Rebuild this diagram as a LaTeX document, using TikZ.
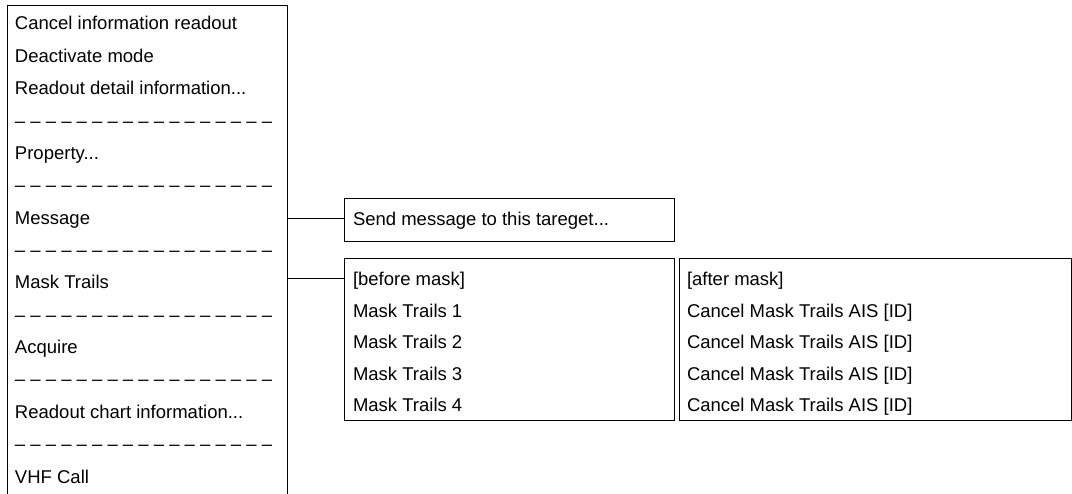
\documentclass[tikz,border=0pt]{standalone}
\usepackage{fontspec}
\setmainfont{Liberation Sans}
\begin{document}
\begin{tikzpicture}[x=1pt,y=-1pt,
  every node/.style={inner sep=0pt, outer sep=0pt},
  item/.style={anchor=base west, font=\fontsize{18.5}{22}\selectfont},
  frame/.style={draw, line width=1pt, rectangle, anchor=north west},
  wire/.style={draw, line width=1pt}]
\useasboundingbox (0,0) rectangle (1072,494);
\def\dashrow{– – – – – – – – – – – – – – – – –}
% left menu
\draw[line width=1pt] (7.5,494) -- (7.5,5.5) -- (287.5,5.5) -- (287.5,494);
\node[item] (m1) at (15,30) {Cancel information readout};
\node[item] (m2) at (15,62.4) {Deactivate mode};
\node[item] (m3) at (15,94.7) {Readout detail information...};
\node[item] (m4) at (15,127.1) {\dashrow};
\node[item] (m5) at (15,159.4) {Property...};
\node[item] (m6) at (15,191.8) {\dashrow};
\node[item] (m7) at (15,224.2) {Message};
\node[item] (m8) at (15,256.5) {\dashrow};
\node[item] (m9) at (15,288.9) {Mask Trails};
\node[item] (m10) at (15,321.2) {\dashrow};
\node[item] (m11) at (15,353.6) {Acquire};
\node[item] (m12) at (15,386) {\dashrow};
\node[item] (m13) at (15,418.3) {Readout chart information...};
\node[item] (m14) at (15,450.7) {\dashrow};
\node[item] (m15) at (15,483) {VHF Call};
% send box
\node[frame, minimum width=330pt, minimum height=43pt] (send) at (344.5,199) {};
\node[item] (sendt) at (353,226) {Send message to this tareget...};
% before mask box
\node[frame, minimum width=330pt, minimum height=162pt] (before) at (344.5,259) {};
\node[item] (b0) at (353,286) {[before mask]};
\node[item] (b1) at (353,317.5) {Mask Trails 1};
\node[item] (b2) at (353,349) {Mask Trails 2};
\node[item] (b3) at (353,380.5) {Mask Trails 3};
\node[item] (b4) at (353,412) {Mask Trails 4};
% after mask box
\node[frame, minimum width=392pt, minimum height=162pt] (after) at (679,259) {};
\node[item] (a0) at (687,286) {[after mask]};
\node[item] (a1) at (687,317.5) {Cancel Mask Trails AIS [ID]};
\node[item] (a2) at (687,349) {Cancel Mask Trails AIS [ID]};
\node[item] (a3) at (687,380.5) {Cancel Mask Trails AIS [ID]};
\node[item] (a4) at (687,412) {Cancel Mask Trails AIS [ID]};
% connectors
\coordinate (msgR) at (287.5,219);
\coordinate (maskR) at (287.5,279);
\draw[wire] (msgR) -- (msgR -| send.west);
\draw[wire] (maskR) -- (maskR -| before.west);
\end{tikzpicture}
\end{document}
